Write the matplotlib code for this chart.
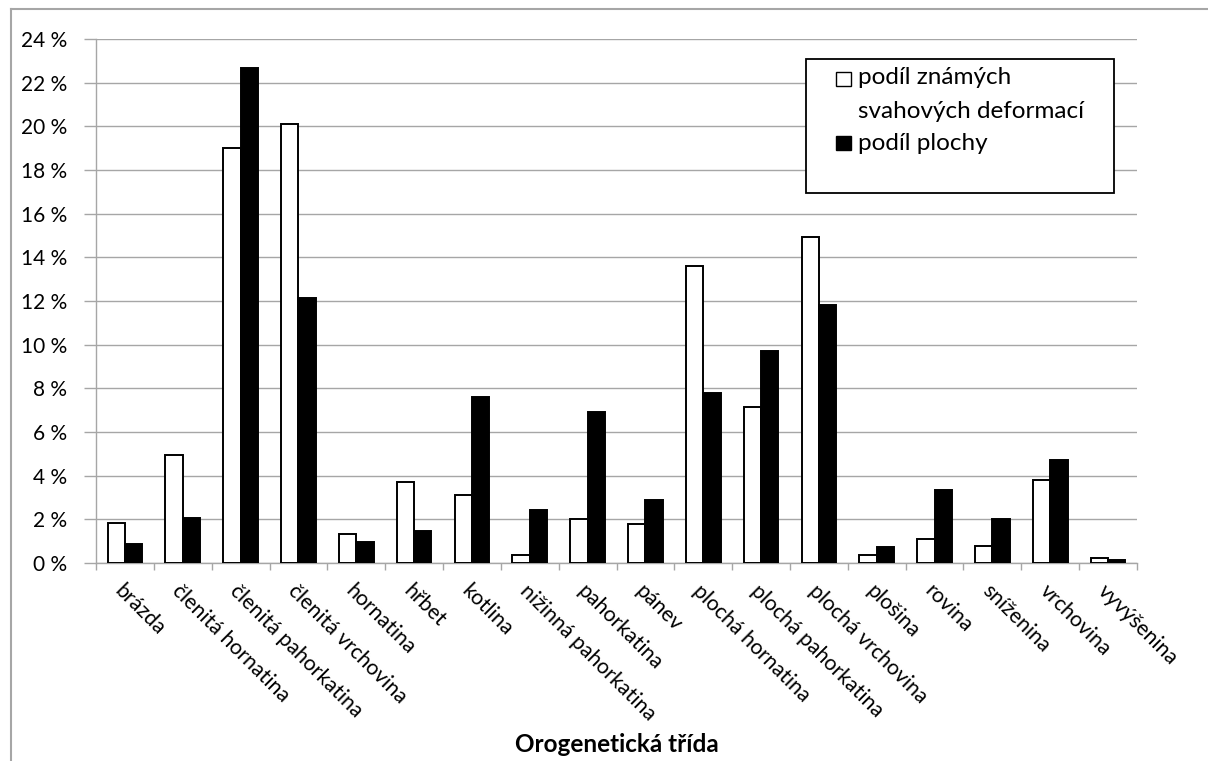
# bar chart: share of known slope deformations vs. share of area per orogenetic class

import matplotlib
matplotlib.use('Agg')
import matplotlib.pyplot as plt
from matplotlib.patches import Rectangle
from matplotlib.lines import Line2D
import numpy

# categories (x axis)
classes = ['brázda', 'členitá hornatina', 'členitá pahorkatina', 'členitá vrchovina',
           'hornatina', 'hřbet', 'kotlina', 'nižinná pahorkatina', 'pahorkatina', 'pánev',
           'plochá hornatina', 'plochá pahorkatina', 'plochá vrchovina', 'plošina',
           'rovina', 'sníženina', 'vrchovina', 'vyvýšenina']
# values in percent
deformations = [1.85, 4.95, 19.0, 20.1, 1.33, 3.7, 3.1, 0.35, 2.0, 1.8,
                13.6, 7.15, 14.95, 0.38, 1.1, 0.8, 3.8, 0.22]
area = [0.85, 2.05, 22.65, 12.15, 0.95, 1.45, 7.6, 2.45, 6.9, 2.9,
        7.8, 9.7, 11.8, 0.75, 3.35, 2.0, 4.7, 0.12]
y_ticks = [0, 2, 4, 6, 8, 10, 12, 14, 16, 18, 20, 22, 24]
legend_lines = ['podíl známých', 'svahových deformací', 'podíl plochy']

plt.rcParams['font.family'] = ['Lato', 'DejaVu Sans']
grey = '#a6a6a6'

W, H = 1208, 761
fig = plt.figure(figsize=(W / 100, H / 100), dpi=100)
ax = fig.add_axes([96 / W, 1 - 563 / H, (1137 - 96) / W, (563 - 39) / H])

x = numpy.arange(len(classes))
bar_w = 0.3
ax.bar(x - bar_w / 2, deformations, bar_w, color='white', edgecolor='black', linewidth=1.4, zorder=3)
ax.bar(x + bar_w / 2, area, bar_w, color='black', edgecolor='black', linewidth=1.4, zorder=3)

ax.set_xlim(-0.5, len(classes) - 0.5)
ax.set_ylim(0, 24)
ax.set_yticks(y_ticks)
ax.set_yticklabels(['%d %%' % v for v in y_ticks], fontsize=15)
ax.yaxis.grid(True, color=grey, linewidth=1, zorder=0)
ax.set_axisbelow(True)

# ticks on category boundaries, labels at category centre
ax.set_xticks(numpy.arange(len(classes) + 1) - 0.5)
ax.set_xticklabels([])
ax.set_xticks(x, minor=True)
ax.set_xticklabels(classes, minor=True, rotation=-45, ha='left', va='top',
                   rotation_mode='anchor', fontsize=15.3)
ax.tick_params(axis='x', which='minor', length=0, pad=13)
ax.tick_params(axis='x', which='major', length=5, color=grey, width=1)
ax.tick_params(axis='y', length=9, color=grey, width=1, pad=12)

for s in ['top', 'right']:
    ax.spines[s].set_visible(False)
for s in ['left', 'bottom']:
    ax.spines[s].set_color(grey)
    ax.spines[s].set_linewidth(1)

ax.set_xlabel('Orogenetická třída', fontsize=17.5, fontweight='bold', va='center')
ax.xaxis.set_label_coords(0.5, -(745 - 563) / (563 - 39))

# legend box drawn by hand (Excel style, empty space at the bottom)
fig.add_artist(Rectangle((806 / W, 1 - 193 / H), (1114 - 806) / W, (193 - 59) / H,
                         facecolor='white', edgecolor='black', linewidth=1.3, zorder=5))
fig.add_artist(Rectangle((836 / W, 1 - 86 / H), 15 / W, 14 / H,
                         facecolor='white', edgecolor='black', linewidth=1, zorder=6))
fig.add_artist(Rectangle((836 / W, 1 - 150 / H), 15 / W, 14 / H,
                         facecolor='black', edgecolor='black', linewidth=1, zorder=6))
for label, yc in zip(legend_lines, [78, 112, 143]):
    fig.text(858 / W, 1 - yc / H, label, fontsize=17.5, va='center', zorder=6)

# chart area border (only left and top visible in the crop)
fig.add_artist(Line2D([11 / W, 11 / W], [0, 1 - 9 / H], color=grey, linewidth=1.5))
fig.add_artist(Line2D([11 / W, 1], [1 - 9 / H, 1 - 9 / H], color=grey, linewidth=1.5))

fig.savefig('out.png', dpi=100)
